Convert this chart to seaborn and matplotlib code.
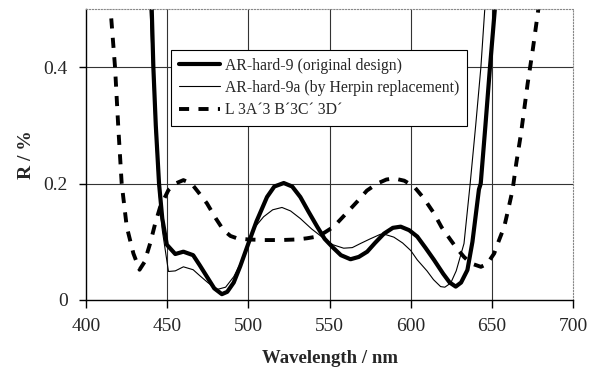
import numpy as np
import pandas as pd
import matplotlib
matplotlib.use("Agg")
import matplotlib.pyplot as plt
import seaborn as sns

# AR-hard-9 (original design)
wl_orig = [436, 440.5, 441.5, 443, 445, 447, 449.8, 455, 460, 466, 470, 474.5, 479, 483.7,
           487, 491, 495, 500, 505, 511.5, 516, 521.8, 527, 532, 537, 542.4, 547, 551.6, 557,
           562.9, 568, 573.2, 578, 583.5, 589, 593.8, 599, 604, 609, 614.3, 620, 624, 627.7,
           631, 634.9, 638, 640, 642, 643.1, 646, 648.8, 651.8, 654]
r_orig = [0.9, 0.5, 0.4, 0.3, 0.2, 0.14, 0.095, 0.079, 0.083, 0.077, 0.06, 0.04, 0.02, 0.01,
          0.014, 0.03, 0.058, 0.097, 0.135, 0.177, 0.195, 0.201, 0.195, 0.177, 0.152, 0.126, 0.105,
          0.0915, 0.077, 0.070, 0.074, 0.083, 0.098, 0.114, 0.124, 0.126, 0.12, 0.109, 0.09,
          0.069, 0.045, 0.03, 0.023, 0.03, 0.0515, 0.1, 0.145, 0.19, 0.2, 0.3, 0.4, 0.5, 0.8]

# AR-hard-9a (by Herpin replacement)
wl_herpin = [435, 439.5, 441, 442.5, 444.5, 447, 450.8, 455, 460, 466, 470, 475, 480.6, 486,
             491, 495, 500, 504, 509.4, 515, 520.7, 526, 532, 539, 546.4, 552, 558.7, 564, 569,
             575, 581.4, 585, 589.6, 595, 600, 604, 610, 614, 618.4, 621, 624.6, 628, 632.8, 636.6,
             640, 643.2, 645.6, 648]
r_herpin = [0.9, 0.5, 0.4, 0.3, 0.2, 0.12, 0.049, 0.05, 0.057, 0.052, 0.042, 0.03, 0.018, 0.022,
            0.04, 0.062, 0.097, 0.125, 0.143, 0.155, 0.159, 0.153, 0.14, 0.122, 0.106, 0.095, 0.089,
            0.09, 0.097, 0.105, 0.113, 0.112, 0.108, 0.098, 0.085, 0.069, 0.05, 0.035, 0.023, 0.022,
            0.029, 0.05, 0.097, 0.2, 0.3, 0.4, 0.5, 0.8]

# L 3A'3 B'3C' 3D'
wl_layer = [413, 415.4, 417.9, 419.9, 422, 425.1, 429.2, 433, 436, 439.5, 442.5, 445.7, 450.8,
            455, 460, 465, 469, 474.5, 480, 484.7, 489, 493, 500, 510, 520, 530, 536, 542.4, 547,
            552.6, 560, 567, 573, 579.3, 585, 589.6, 596, 602, 608, 614.3, 619, 624.6, 628, 632.8,
            637, 643.2, 647, 651.4, 654, 657.6, 660, 662.7, 665, 667.9, 670, 672, 675.1, 678.6, 681]
r_layer = [0.6, 0.49, 0.4, 0.297, 0.2, 0.126, 0.08, 0.052, 0.065, 0.097, 0.13, 0.16, 0.189,
           0.2, 0.206, 0.2, 0.186, 0.166, 0.14, 0.12, 0.11, 0.106, 0.104, 0.103, 0.103, 0.104, 0.106,
           0.109, 0.116, 0.126, 0.148, 0.169, 0.188, 0.2, 0.207, 0.209, 0.205, 0.195, 0.175, 0.149,
           0.125, 0.103, 0.09, 0.074, 0.063, 0.057, 0.062, 0.08, 0.1, 0.126, 0.155, 0.189, 0.235,
           0.286, 0.33, 0.372, 0.429, 0.5, 0.6]

x_ticks = [400, 450, 500, 550, 600, 650, 700]
y_ticks = [0, 0.2, 0.4]
y_tick_labels = ["0", "0.2", "0.4"]

sns.set_style("white")
plt.rcParams['font.family'] = ['Liberation Serif', 'DejaVu Serif']

fig = plt.figure(figsize=(5.97, 3.71), dpi=100)
ax = fig.add_axes([0.144, 0.1914, 0.816, 0.7843])

df_orig = pd.DataFrame({"wl": wl_orig, "r": r_orig})
df_herpin = pd.DataFrame({"wl": wl_herpin, "r": r_herpin})
df_layer = pd.DataFrame({"wl": wl_layer, "r": r_layer})

sns.lineplot(data=df_orig, x="wl", y="r", ax=ax, color="black", linewidth=3.0,
             label="AR-hard-9 (original design)", sort=False)
sns.lineplot(data=df_herpin, x="wl", y="r", ax=ax, color="black", linewidth=0.8,
             label="AR-hard-9a (by Herpin replacement)", sort=False)
sns.lineplot(data=df_layer, x="wl", y="r", ax=ax, color="black", linewidth=2.8,
             label="L 3A\u00b43 B\u00b43C\u00b4 3D\u00b4", sort=False, dashes=False)
ax.lines[-1].set_dashes((2.6, 2.4))

ax.set_xlim(400, 700)
ax.set_ylim(0, 0.5)
ax.set_xticks(x_ticks)
ax.set_yticks(y_ticks)
ax.set_yticklabels(y_tick_labels)

for x in x_ticks[1:-1]:
    ax.axvline(x, color="#333333", linewidth=0.8, zorder=0)
for y in y_ticks[1:]:
    ax.axhline(y, color="#333333", linewidth=0.8, zorder=0)

for side in ["top", "right"]:
    ax.spines[side].set_color("#888888")
    ax.spines[side].set_linewidth(0.8)
    ax.spines[side].set_linestyle(":")
for side in ["left", "bottom"]:
    ax.spines[side].set_color("black")
    ax.spines[side].set_linewidth(1.0)

ax.tick_params(axis="x", direction="out", length=6, width=1, color="black",
               labelsize=14, bottom=True, pad=7)
ax.tick_params(axis="y", direction="out", length=5, width=1, color="black",
               labelsize=14, left=True, pad=8)

ax.set_xlabel("Wavelength / nm", fontsize=13.5, fontweight="bold", labelpad=11)
ax.set_ylabel("R / %", fontsize=14, fontweight="bold", labelpad=6)

leg = ax.legend(loc="upper left", bbox_to_anchor=(0.175, 0.86), fontsize=11.3,
                frameon=True, fancybox=False, edgecolor="black", framealpha=1,
                handlelength=2.6, borderpad=0.5, labelspacing=0.4, handletextpad=0.3,
                borderaxespad=0)
leg.get_frame().set_linewidth(0.8)

fig.savefig("out.png", dpi=100)
